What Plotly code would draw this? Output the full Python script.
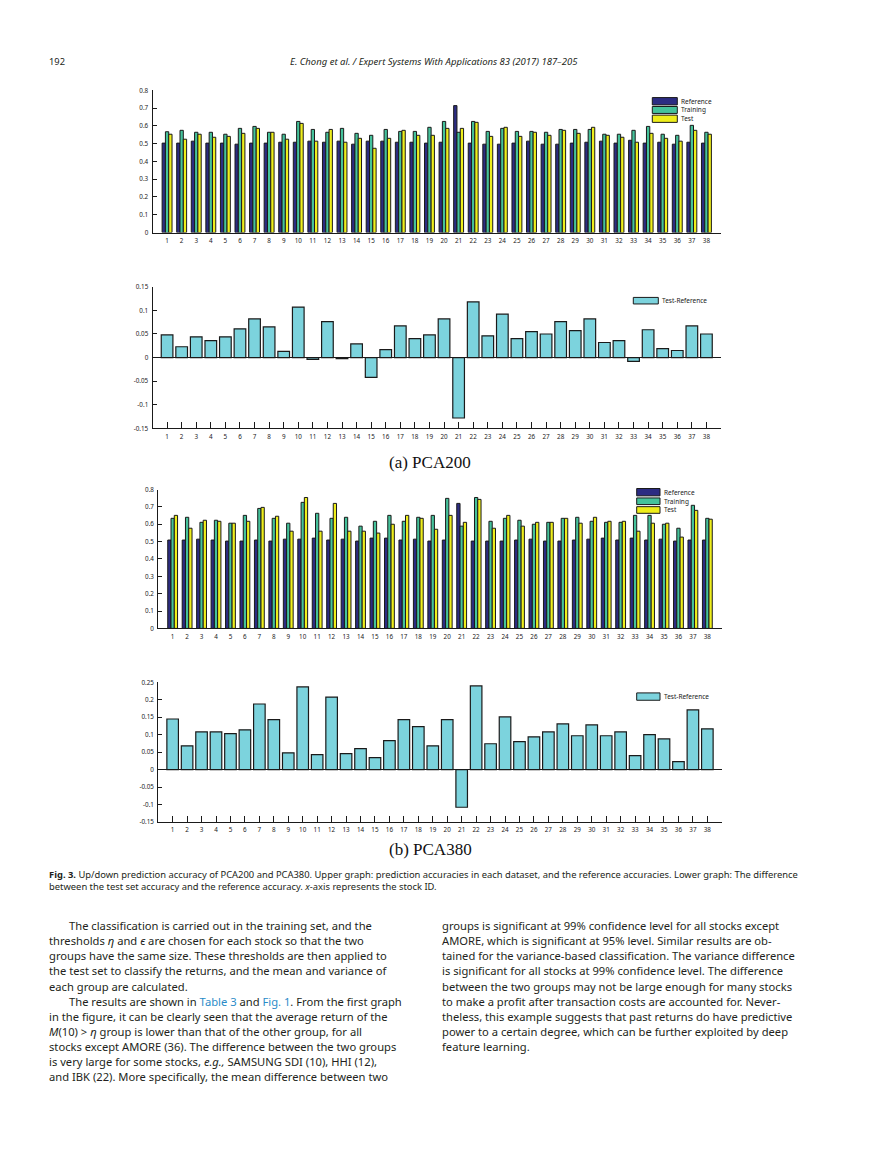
import plotly.graph_objects as go

W, H = 869, 1158

# ---------------- data ----------------
stock_ids = list(range(1, 39))
stock_labels = [str(i) for i in stock_ids]

pca200_reference = [0.503, 0.503, 0.514, 0.503, 0.503, 0.497, 0.503, 0.503, 0.508, 0.508,
                    0.514, 0.508, 0.514, 0.497, 0.514, 0.514, 0.508, 0.508, 0.503, 0.508,
                    0.714, 0.503, 0.497, 0.497, 0.503, 0.514, 0.497, 0.497, 0.503, 0.508,
                    0.514, 0.503, 0.519, 0.503, 0.508, 0.497, 0.508, 0.503]
pca200_training = [0.567, 0.575, 0.564, 0.564, 0.553, 0.586, 0.597, 0.564, 0.553, 0.625,
                   0.580, 0.564, 0.586, 0.558, 0.547, 0.580, 0.569, 0.569, 0.592, 0.625,
                   0.564, 0.625, 0.569, 0.586, 0.569, 0.569, 0.564, 0.580, 0.580, 0.580,
                   0.553, 0.553, 0.575, 0.597, 0.553, 0.547, 0.603, 0.564]
pca200_test = [0.553, 0.525, 0.553, 0.536, 0.541, 0.558, 0.586, 0.564, 0.525, 0.614,
               0.514, 0.580, 0.508, 0.530, 0.474, 0.530, 0.575, 0.547, 0.547, 0.586,
               0.586, 0.620, 0.541, 0.592, 0.541, 0.564, 0.547, 0.575, 0.558, 0.592,
               0.547, 0.536, 0.508, 0.558, 0.530, 0.514, 0.575, 0.553]
pca200_diff = [0.048, 0.023, 0.044, 0.036, 0.044, 0.061, 0.082, 0.065, 0.013, 0.107,
               -0.004, 0.076, -0.002, 0.029, -0.042, 0.017, 0.067, 0.040, 0.048, 0.082,
               -0.128, 0.118, 0.046, 0.092, 0.040, 0.055, 0.050, 0.076, 0.057, 0.082,
               0.032, 0.036, -0.008, 0.059, 0.019, 0.015, 0.067, 0.050]

pca380_reference = [0.509, 0.509, 0.514, 0.509, 0.503, 0.503, 0.509, 0.503, 0.514, 0.514,
                    0.520, 0.509, 0.514, 0.503, 0.520, 0.520, 0.509, 0.514, 0.503, 0.509,
                    0.720, 0.503, 0.503, 0.503, 0.509, 0.514, 0.503, 0.503, 0.509, 0.514,
                    0.520, 0.509, 0.520, 0.509, 0.514, 0.503, 0.509, 0.509]
pca380_training = [0.634, 0.640, 0.611, 0.623, 0.606, 0.651, 0.691, 0.634, 0.606, 0.726,
                   0.663, 0.634, 0.640, 0.589, 0.617, 0.651, 0.617, 0.640, 0.651, 0.749,
                   0.589, 0.754, 0.617, 0.634, 0.623, 0.600, 0.611, 0.634, 0.640, 0.617,
                   0.611, 0.611, 0.651, 0.651, 0.600, 0.577, 0.709, 0.634]
pca380_test = [0.651, 0.577, 0.623, 0.617, 0.606, 0.617, 0.697, 0.646, 0.560, 0.754,
               0.560, 0.720, 0.560, 0.560, 0.549, 0.600, 0.651, 0.634, 0.571, 0.651,
               0.611, 0.743, 0.577, 0.651, 0.589, 0.611, 0.611, 0.634, 0.606, 0.640,
               0.617, 0.617, 0.560, 0.606, 0.606, 0.526, 0.680, 0.629]
pca380_diff = [0.145, 0.068, 0.108, 0.108, 0.103, 0.114, 0.188, 0.143, 0.048, 0.237,
               0.043, 0.208, 0.046, 0.060, 0.034, 0.083, 0.143, 0.123, 0.068, 0.143,
               -0.108, 0.240, 0.074, 0.151, 0.080, 0.094, 0.108, 0.131, 0.097, 0.128,
               0.097, 0.108, 0.040, 0.100, 0.088, 0.023, 0.171, 0.117]

acc_ticks = [0, 0.1, 0.2, 0.3, 0.4, 0.5, 0.6, 0.7, 0.8]
acc_tick_text = ["0", "0.1", "0.2", "0.3", "0.4", "0.5", "0.6", "0.7", "0.8"]
diff200_ticks = [-0.15, -0.1, -0.05, 0, 0.05, 0.1, 0.15]
diff200_tick_text = ["-0.15", "-0.1", "-0.05", "0", "0.05", "0.1", "0.15"]
diff380_ticks = [-0.15, -0.1, -0.05, 0, 0.05, 0.1, 0.15, 0.2, 0.25]
diff380_tick_text = ["-0.15", "-0.1", "-0.05", "0", "0.05", "0.1", "0.15", "0.2", "0.25"]

series_names = ["Reference", "Training", "Test"]
diff_name = "Test-Reference"

# ---------------- style ----------------
C_REF = "#2c2c82"
C_TRAIN = "#45c29b"
C_TEST = "#eeee1c"
C_DIFF = "#7cd3dd"
FONT = "Noto Sans"
TXT = "#231f20"


def px(x):
    return x / W


def py(y):
    return 1 - y / H


fig = go.Figure()

groups = [
    ("x", "y", pca200_reference, pca200_training, pca200_test),
    ("x3", "y3", pca380_reference, pca380_training, pca380_test),
]
for xa, ya, ref, tr, te in groups:
    for name, vals, col in zip(series_names, [ref, tr, te], [C_REF, C_TRAIN, C_TEST]):
        fig.add_trace(go.Bar(
            x=stock_ids, y=vals, name=name, xaxis=xa, yaxis=ya,
            marker=dict(color=col, line=dict(color="#1a1a1a", width=1)),
            showlegend=False))

for xa, ya, vals in [("x2", "y2", pca200_diff), ("x4", "y4", pca380_diff)]:
    fig.add_trace(go.Bar(
        x=stock_ids, y=vals, name=diff_name, xaxis=xa, yaxis=ya, width=0.8,
        marker=dict(color=C_DIFF, line=dict(color="#1a1a1a", width=1.2)),
        showlegend=False))

tickfont = dict(family=FONT, size=6.3, color="#222")


def xax(dom, ticks, ticklen):
    return dict(domain=dom, range=[0, 39], tickmode="array", tickvals=stock_ids,
                ticktext=stock_labels, ticks=ticks, ticklen=ticklen, tickwidth=1,
                tickcolor="#1a1a1a", showline=True, linecolor="#1a1a1a", linewidth=1,
                showgrid=False, zeroline=False, tickfont=tickfont, ticklabelstandoff=2,
                fixedrange=True)


def yax(dom, rng, tv, tt, zl):
    return dict(domain=dom, range=rng, tickmode="array", tickvals=tv, ticktext=tt,
                ticks="inside", ticklen=4, tickwidth=1, tickcolor="#1a1a1a",
                showline=True, linecolor="#1a1a1a", linewidth=1, showgrid=False,
                zeroline=zl, zerolinecolor="#1a1a1a", zerolinewidth=1,
                tickfont=tickfont, ticklabelstandoff=2, fixedrange=True)


XA = [px(152.5), px(721)]
XB = [px(158.2), px(721.8)]

fig.update_layout(
    width=W, height=H, margin=dict(l=0, r=0, t=0, b=0),
    paper_bgcolor="white", plot_bgcolor="white",
    barmode="group", bargap=0.32, bargroupgap=0,
    showlegend=False,
    xaxis=xax(XA, "", 0),
    yaxis=yax([py(229.3), py(86)], [0, 0.8], acc_ticks, acc_tick_text, False),
    xaxis2=dict(xax(XA, "inside", 6), anchor="y2"),
    yaxis2=dict(yax([py(426.7), py(284)], [-0.15, 0.15], diff200_ticks, diff200_tick_text, True), anchor="x2"),
    xaxis3=dict(xax(XB, "", 0), anchor="y3"),
    yaxis3=dict(yax([py(628.3), py(488.3)], [0, 0.8], acc_ticks, acc_tick_text, False), anchor="x3"),
    xaxis4=dict(xax(XB, "inside", 6), anchor="y4"),
    yaxis4=dict(yax([py(823.3), py(682.7)], [-0.15, 0.25], diff380_ticks, diff380_tick_text, True), anchor="x4"),
)

shapes = []
annotations = []


def legend_item(x0, x1, y0, y1, color, label, tx):
    shapes.append(dict(type="rect", xref="paper", yref="paper",
                       x0=px(x0), x1=px(x1), y0=py(y1), y1=py(y0),
                       fillcolor=color, line=dict(color="#1a1a1a", width=1)))
    annotations.append(dict(xref="paper", yref="paper", x=px(tx), y=py((y0 + y1) / 2),
                            xanchor="left", yanchor="middle", showarrow=False,
                            text=label, font=dict(family=FONT, size=6.5, color="#222")))


# legends
legend_item(652.3, 677.3, 93.3, 100.7, C_REF, series_names[0], 679)
legend_item(652.3, 677.3, 102.3, 109.3, C_TRAIN, series_names[1], 679)
legend_item(652.3, 677.3, 111.0, 118.3, C_TEST, series_names[2], 679)
legend_item(633.3, 658.3, 294.7, 301.3, C_DIFF, diff_name, 660)
legend_item(636.7, 660.0, 487.3, 494.7, C_REF, series_names[0], 662)
legend_item(636.7, 660.0, 496.8, 503.5, C_TRAIN, series_names[1], 662)
legend_item(636.7, 660.0, 505.6, 512.3, C_TEST, series_names[2], 662)
legend_item(636.7, 660.0, 693.3, 700.7, C_DIFF, diff_name, 662)


def text(x, y, s, size, anchor="left", family=FONT, color=TXT):
    annotations.append(dict(xref="paper", yref="paper", x=px(x), y=py(y),
                            xanchor=anchor, yanchor="middle", showarrow=False,
                            text=s, font=dict(family=family, size=size, color=color)))


# page header
text(47, 57, "192", 9.3)
text(434, 57, "<i>E. Chong et al. / Expert Systems With Applications 83 (2017) 187–205</i>", 9.5, "center")

# sub captions
text(430, 461, "(a) PCA200", 17, "center", "Liberation Serif", "#111")
text(430, 851, "(b) PCA380", 17, "center", "Liberation Serif", "#111")

# figure caption
text(47, 876, "<b>Fig. 3.</b> Up/down prediction accuracy of PCA200 and PCA380. Upper graph: prediction "
     "accuracies in each dataset, and the reference accuracies. Lower graph: The difference", 9.4)
text(47, 888, "between the test set accuracy and the reference accuracy. <i>x</i>-axis represents the stock ID.", 9.4)

BLUE = "#2a8bc8"
left_lines = [
    (66.5, "The classification is carried out in the training set, and the"),
    (46.7, "thresholds <i>η</i> and <i>ϵ</i> are chosen for each stock so that the two"),
    (46.7, "groups have the same size. These thresholds are then applied to"),
    (46.7, "the test set to classify the returns, and the mean and variance of"),
    (46.7, "each group are calculated."),
    (66.5, "The results are shown in <span style='color:%s'>Table 3</span> and "
           "<span style='color:%s'>Fig. 1</span>. From the first graph" % (BLUE, BLUE)),
    (46.7, "in the figure, it can be clearly seen that the average return of the"),
    (46.7, "<i>M</i>(10) &gt; <i>η</i> group is lower than that of the other group, for all"),
    (46.7, "stocks except AMORE (36). The difference between the two groups"),
    (46.7, "is very large for some stocks, <i>e.g.,</i> SAMSUNG SDI (10), HHI (12),"),
    (46.7, "and IBK (22). More specifically, the mean difference between two"),
]
right_lines = [
    "groups is significant at 99% confidence level for all stocks except",
    "AMORE, which is significant at 95% level. Similar results are ob-",
    "tained for the variance-based classification. The variance difference",
    "is significant for all stocks at 99% confidence level. The difference",
    "between the two groups may not be large enough for many stocks",
    "to make a profit after transaction costs are accounted for. Never-",
    "theless, this example suggests that past returns do have predictive",
    "power to a certain degree, which can be further exploited by deep",
    "feature learning.",
]
y0, dy = 927.7, 15.26
for i, (lx, s) in enumerate(left_lines):
    text(lx, y0 + i * dy, s, 11.2)
for i, s in enumerate(right_lines):
    text(440, y0 + i * dy, s, 11.2)

fig.update_layout(shapes=shapes, annotations=annotations)

fig.write_html("out.html", config={"displayModeBar": False, "staticPlot": True},
               post_script="document.body.style.margin='0';document.body.style.overflow='hidden';")
